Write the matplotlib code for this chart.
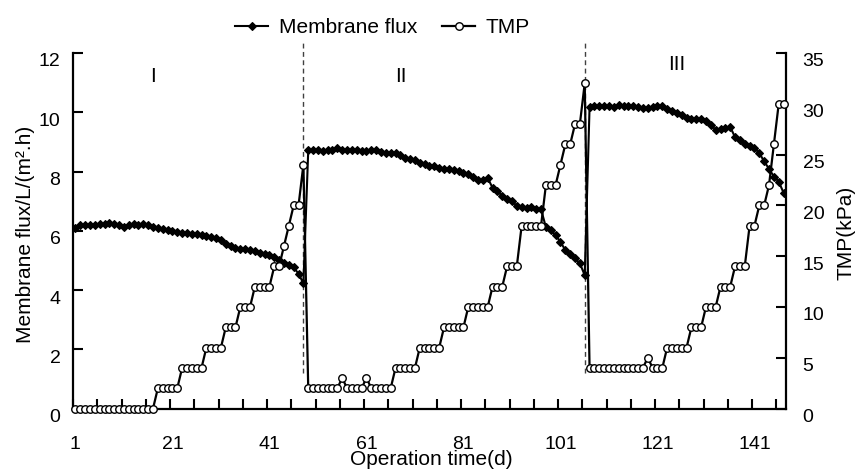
import numpy as np
import matplotlib
matplotlib.use("Agg")
import matplotlib.pyplot as plt
from matplotlib.transforms import ScaledTranslation

# ---------------- data ----------------
flux_phase1 = [6.08, 6.18, 6.20, 6.20, 6.20, 6.22, 6.22, 6.26, 6.22, 6.18,
               6.14, 6.20, 6.22, 6.18, 6.22, 6.20, 6.12, 6.08, 6.05, 6.02,
               5.98, 5.95, 5.93, 5.92, 5.90, 5.88, 5.86, 5.83, 5.80, 5.77,
               5.70, 5.55, 5.47, 5.42, 5.40, 5.38, 5.36, 5.30, 5.26, 5.22,
               5.18, 5.10, 5.00, 4.92, 4.86, 4.76, 4.55, 4.22]
flux_phase2 = [8.71, 8.73, 8.71, 8.69, 8.73, 8.73, 8.78, 8.71, 8.73, 8.73,
               8.73, 8.68, 8.68, 8.71, 8.73, 8.66, 8.63, 8.63, 8.61, 8.56,
               8.45, 8.42, 8.38, 8.29, 8.24, 8.20, 8.18, 8.13, 8.10, 8.07,
               8.05, 8.02, 7.96, 7.90, 7.83, 7.72, 7.70, 7.78, 7.45, 7.34,
               7.17, 7.08, 7.00, 6.84, 6.80, 6.76, 6.80, 6.73, 6.72, 6.12,
               6.03, 5.85, 5.62, 5.35, 5.20, 5.07, 4.90, 4.50]
flux_phase3 = [10.17, 10.20, 10.20, 10.20, 10.20, 10.17, 10.24, 10.20, 10.20, 10.20,
               10.17, 10.14, 10.14, 10.17, 10.20, 10.20, 10.10, 10.03, 9.98, 9.90,
               9.82, 9.77, 9.77, 9.77, 9.72, 9.57, 9.41, 9.44, 9.47, 9.50,
               9.16, 9.07, 8.94, 8.85, 8.79, 8.62, 8.34, 8.09, 7.83, 7.66, 7.28]

tmp_phase1 = [0, 0, 0, 0, 0, 0, 0, 0, 0, 0, 0, 0, 0, 0, 0, 0, 0,
              2, 2, 2, 2, 2, 4, 4, 4, 4, 4, 6, 6, 6, 6, 8, 8, 8,
              10, 10, 10, 12, 12, 12, 12, 14, 14, 16, 18, 20, 20, 24]
tmp_phase2 = [2, 2, 2, 2, 2, 2, 2, 3, 2, 2, 2, 2, 3, 2, 2, 2, 2, 2,
              4, 4, 4, 4, 4, 6, 6, 6, 6, 6, 8, 8, 8, 8, 8,
              10, 10, 10, 10, 10, 12, 12, 12, 14, 14, 14,
              18, 18, 18, 18, 18, 22, 22, 22, 24, 26, 26, 28, 28, 32]
tmp_phase3 = [4, 4, 4, 4, 4, 4, 4, 4, 4, 4, 4, 4, 5, 4, 4, 4,
              6, 6, 6, 6, 6, 8, 8, 8, 10, 10, 10, 12, 12, 12, 14, 14, 14,
              18, 18, 20, 20, 22, 26, 30, 30]

flux = flux_phase1 + flux_phase2 + flux_phase3
tmp = tmp_phase1 + tmp_phase2 + tmp_phase3
days = list(range(1, len(flux) + 1))

phase_boundaries = [48, 106]
phase_labels = ["I", "II", "III"]
x_tick_values = [1, 21, 41, 61, 81, 101, 121, 141]
left_ticks = [0, 2, 4, 6, 8, 10, 12]
right_ticks = [0, 5, 10, 15, 20, 25, 30, 35]

# ---------------- layout ----------------
plt.rcParams["font.family"] = ["Liberation Sans", "DejaVu Sans"]

W, H = 858, 470
fig = plt.figure(figsize=(W / 100, H / 100), dpi=100)
ax = fig.add_axes([73 / W, 1 - 408.5 / H, 713 / W, 355.5 / H])
ax2 = ax.twinx()

l1, = ax.plot(days, flux, color="black", lw=1.5, marker="D", ms=3.6,
              mfc="black", mec="black", mew=0.8, zorder=3)
l2, = ax2.plot(days, tmp, color="black", lw=1.6, marker="o", ms=5.4,
               mfc="white", mec="black", mew=1.0, zorder=3, clip_on=False)

for b in phase_boundaries:
    ax.plot([b, b], [1.2, 12.35], color="#404040", lw=1.0,
            ls=(0, (3.5, 2.5)), clip_on=False, zorder=2)

phase_label_pos = [(17, 11.2), (68, 11.2), (125, 11.6)]
for (px, py), s in zip(phase_label_pos, phase_labels):
    ax.text(px, py, s, ha="center", va="center", fontsize=15)

ax.set_xlim(0.5, 147.5)
ax.set_xticks(x_tick_values)
ax.set_xticklabels([str(v) for v in x_tick_values])
ax.set_xticks(np.arange(0.5, 146, 5), minor=True)
ax.tick_params(axis="x", which="major", length=0, pad=20, labelsize=14)
ax.tick_params(axis="x", which="minor", direction="in", length=7, width=1.5)

ax.set_ylim(0, 12)
ax.set_yticks(left_ticks)
ax.tick_params(axis="y", direction="in", length=7, width=1.5, pad=9, labelsize=14)
ax2.set_ylim(0, 35)
ax2.set_yticks(right_ticks)
ax2.tick_params(axis="y", direction="in", length=7, width=1.5, pad=12, labelsize=14)

ax.spines["top"].set_visible(False)
ax.spines["right"].set_visible(False)
for s in ["top", "left", "bottom"]:
    ax2.spines[s].set_visible(False)
ax.spines["left"].set_linewidth(1.6)
ax.spines["bottom"].set_linewidth(1.6)
ax2.spines["right"].set_linewidth(1.6)

off = ScaledTranslation(0, -7 / 100, fig.dpi_scale_trans)
for t in ax.yaxis.get_major_ticks():
    t.label1.set_transform(t.label1.get_transform() + off)
for t in ax2.yaxis.get_major_ticks():
    t.label2.set_transform(t.label2.get_transform() + off)

ax.set_ylabel("Membrane flux/L/(m².h)", fontsize=15)
ax.yaxis.set_label_coords(-0.053, 0.49)
ax2.set_ylabel("TMP(kPa)", fontsize=15)
ax2.yaxis.set_label_coords(1.0715, 0.495)
ax.set_xlabel("Operation time(d)", fontsize=15)
ax.xaxis.set_label_coords(0.502, -0.117)

ax2.legend([l1, l2], ["Membrane flux", "TMP"], loc="center left",
           bbox_to_anchor=(0.227, 1.072), ncol=2, frameon=False,
           handlelength=1.6, handletextpad=0.5, columnspacing=1.2,
           borderpad=0, borderaxespad=0,
           prop={"size": 15})

fig.savefig("out.png", dpi=100)
